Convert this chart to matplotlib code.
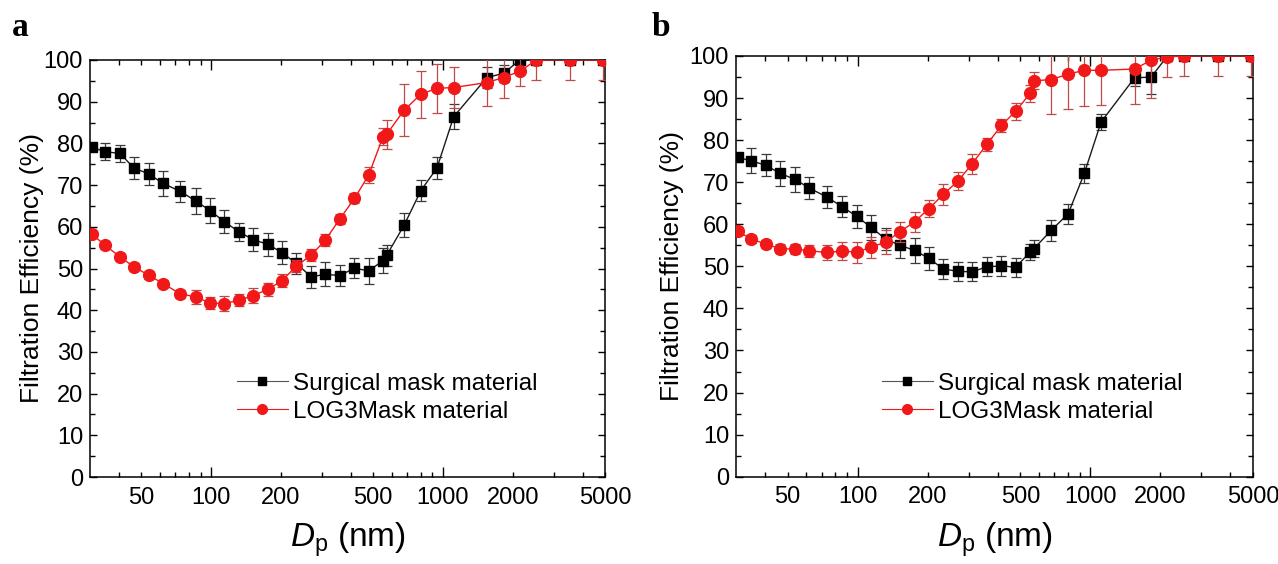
import matplotlib
matplotlib.use('Agg')
import matplotlib.pyplot as plt
from matplotlib.lines import Line2D
from matplotlib.ticker import FixedLocator, NullFormatter, MultipleLocator

plt.rcParams['font.family'] = ['Liberation Sans', 'DejaVu Sans']
plt.rcParams['mathtext.fontset'] = 'custom'
plt.rcParams['mathtext.rm'] = 'Liberation Sans'
plt.rcParams['mathtext.it'] = 'Liberation Sans:italic'

# ---------------- data ----------------
diam = [30.5, 34.8, 40.4, 46.4, 53.7, 62.0, 73.6, 85.7, 98.9, 114, 131.9,
        151.9, 175.6, 202.3, 233.2, 270, 310.7, 359, 415, 478, 551,
        572, 680, 803, 942, 1112, 1548, 1825, 2145, 2530, 3520, 4900]

a_surgical = [79.1, 78.0, 77.6, 74.1, 72.7, 70.4, 68.5, 66.2, 63.9, 61.2, 58.8,
              56.9, 55.8, 53.8, 51.2, 48.0, 48.6, 48.3, 50.1, 49.4, 51.9,
              53.2, 60.4, 68.7, 74.1, 86.4, 95.8, 96.8, 100, 100, 100, 100]
a_surgical_err = [1.0, 2.1, 2.0, 2.6, 2.7, 2.9, 2.6, 3.1, 2.9, 2.8, 2.2,
                  2.8, 2.8, 2.8, 2.5, 2.6, 2.9, 2.5, 2.3, 3.0, 3.0,
                  2.5, 2.8, 2.6, 2.6, 3.0, 2.5, 2.0, 0.5, 0.5, 0.5, 0.5]
a_log3 = [58.3, 55.6, 52.8, 50.4, 48.4, 46.4, 43.9, 43.2, 41.7, 41.6, 42.4,
          43.5, 45.0, 47.1, 50.6, 53.2, 56.8, 61.9, 66.8, 72.4, 81.6,
          82.2, 88.0, 91.8, 93.2, 93.4, 94.6, 95.8, 97.3, 100, 100, 100]
a_log3_err = [0.8, 0.8, 0.8, 0.8, 0.8, 0.8, 1.0, 1.6, 1.5, 1.8, 1.5,
              1.8, 1.5, 1.5, 1.5, 1.5, 1.5, 1.2, 1.2, 2.0, 2.0,
              3.5, 6.2, 5.6, 5.9, 5.0, 5.6, 4.8, 3.6, 4.8, 4.8, 4.8]

b_surgical = [75.9, 75.1, 74.0, 72.1, 70.7, 68.6, 66.5, 64.2, 61.9, 59.3, 56.5,
              55.0, 53.8, 51.9, 49.4, 48.8, 48.7, 49.9, 50.1, 49.8, 53.4,
              54.2, 58.6, 62.5, 72.1, 84.3, 94.8, 95.0, 100, 100, 100, 100]
b_surgical_err = [1.0, 3.0, 2.6, 3.0, 3.0, 2.7, 2.6, 2.5, 2.8, 3.0, 2.7,
                  2.9, 2.9, 2.8, 2.3, 2.3, 2.3, 2.3, 2.3, 2.3, 2.0,
                  2.0, 2.5, 2.4, 2.2, 2.0, 2.0, 4.0, 0.5, 0.5, 0.5, 0.5]
b_log3 = [58.4, 56.5, 55.3, 54.2, 54.1, 53.7, 53.3, 53.6, 53.4, 54.5, 55.8,
          58.2, 60.6, 63.7, 67.1, 70.3, 74.4, 79.0, 83.5, 86.9, 91.1,
          94.1, 94.4, 95.7, 96.6, 96.6, 96.9, 99.0, 99.8, 100, 100, 100]
b_log3_err = [1.0, 1.0, 1.0, 1.0, 1.2, 1.4, 1.8, 2.1, 2.5, 2.4, 2.9,
              2.4, 2.4, 2.0, 2.4, 2.2, 2.4, 1.5, 1.5, 2.0, 2.0,
              2.0, 8.2, 8.4, 8.5, 8.2, 8.2, 9.0, 4.8, 4.8, 4.8, 4.8]

xtick_major = [50, 100, 200, 500, 1000, 2000, 5000]
xtick_labels = ['50', '100', '200', '500', '1000', '2000', '5000']
xtick_minor = [40, 60, 70, 80, 90, 300, 400, 600, 700, 800, 900, 3000, 4000]
labels = ['Surgical mask material', 'LOG3Mask material']

BLACK = '#000000'
RED = '#f01818'
RED_ERR = '#c04a4a'

W, H = 1278, 564
fig = plt.figure(figsize=(W / 100, H / 100), dpi=100)
axA = fig.add_axes([90 / W, 1 - 477 / H, 515 / W, 417 / H])
axB = fig.add_axes([736 / W, 1 - 476.7 / H, 517 / W, 420.7 / H])


def draw(ax, black, black_err, red, red_err, leg_x, leg_y, ylabx):
    ax.errorbar(diam, black, yerr=black_err, fmt='-s', color='#1a1a1a', lw=1.0,
                mfc=BLACK, mec=BLACK, ms=7, ecolor='#3a3a3a', elinewidth=0.9,
                capsize=3.5, capthick=0.9, zorder=3)
    ax.errorbar(diam, red, yerr=red_err, fmt='-o', color=RED, lw=1.0,
                mfc=RED, mec=RED, ms=8.5, ecolor=RED_ERR, elinewidth=0.9,
                capsize=3.5, capthick=0.9, zorder=4)
    ax.set_xscale('log')
    ax.set_xlim(30, 5000)
    ax.set_ylim(0, 100)
    ax.xaxis.set_major_locator(FixedLocator(xtick_major))
    ax.set_xticklabels(xtick_labels)
    ax.xaxis.set_minor_locator(FixedLocator(xtick_minor))
    ax.xaxis.set_minor_formatter(NullFormatter())
    ax.yaxis.set_major_locator(MultipleLocator(10))
    ax.yaxis.set_minor_locator(MultipleLocator(5))
    ax.tick_params(axis='both', which='both', direction='in', top=True, right=True,
                   labelsize=17, width=1.0, color='black')
    ax.tick_params(axis='both', which='major', length=5)
    ax.tick_params(axis='both', which='minor', length=3.5)
    ax.tick_params(axis='x', which='major', pad=7)
    ax.tick_params(axis='y', which='major', pad=5)
    for t in ax.xaxis.get_major_ticks():
        if t.get_loc() in (100, 1000):
            t.tick1line.set_markersize(7)
            t.tick2line.set_markersize(7)
        else:
            t.tick1line.set_markersize(3.5)
            t.tick2line.set_markersize(3.5)
    for s in ax.spines.values():
        s.set_linewidth(1.1)
    ax.set_ylabel('Filtration Efficiency (%)', fontsize=19)
    ax.yaxis.set_label_coords(ylabx, 0.5)
    ax.set_xlabel(r'$\mathit{D}_{\mathrm{p}}$ (nm)', fontsize=24)
    ax.xaxis.set_label_coords(0.5, -0.105)
    ax.xaxis.label.set_va('top')
    handles = [
        Line2D([], [], color='#555555', lw=0.8, marker='s', ms=6, mfc=BLACK, mec=BLACK),
        Line2D([], [], color=RED, lw=0.8, marker='o', ms=7, mfc=RED, mec=RED),
    ]
    ax.legend(handles, labels, loc='upper left', bbox_to_anchor=(leg_x, leg_y),
              frameon=False, fontsize=17.5, handlelength=2.1, handletextpad=0.2,
              labelspacing=0.25, borderpad=0, borderaxespad=0)


draw(axA, a_surgical, a_surgical_err, a_log3, a_log3_err, 0.285, 0.25, -0.09)
draw(axB, b_surgical, b_surgical_err, b_log3, b_log3_err, 0.282, 0.247, -0.10)

fig.text(12 / W, 1 - 36 / H, 'a', fontsize=24, fontweight='bold',
         family='Liberation Serif', ha='left', va='baseline')
fig.text(652 / W, 1 - 36 / H, 'b', fontsize=24, fontweight='bold',
         family='Liberation Serif', ha='left', va='baseline')

fig.savefig('out.png', dpi=100)
